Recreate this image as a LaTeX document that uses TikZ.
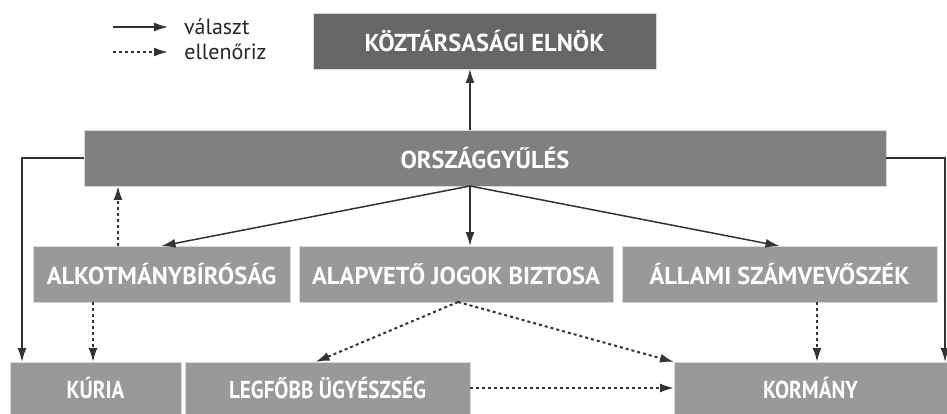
\documentclass[tikz,border=0pt]{standalone}
\usepackage{fontspec}
\setmainfont{PT Sans}
\newfontfamily\narrowsans[FakeStretch=0.86]{PT Sans}
\usetikzlibrary{arrows.meta}
\begin{document}
\begin{tikzpicture}[x=1pt,y=-1pt,
    box/.style={fill=#1,draw=white!85!black,line width=0.6pt,text=white,font=\bfseries\fontsize{24.5}{24.5}\selectfont,
      inner sep=0pt,outer sep=0pt,minimum height=56pt},
    lowbox/.style={box=#1,minimum height=52pt,font=\narrowsans\bfseries\fontsize{24.5}{24.5}\selectfont},
    elect/.style={line width=1.5pt,draw=black!80,-{Latex[length=14pt,width=9pt]}},
    check/.style={elect,dash pattern=on 3pt off 3pt,line width=2pt}]
    \useasboundingbox (0,0) rectangle (947,414);
    % legend
    \coordinate (l1) at (113,27);
    \coordinate (l2) at (113,52);
    \draw[elect] (l1) -- ++(55,0) node[right=12pt,text=black!85,font=\fontsize{22}{22}\selectfont] (lt1) {választ};
    \draw[check] (l2) -- ++(55,0) node[right=12pt,text=black!85,font=\fontsize{22}{22}\selectfont] (lt2) {ellenőriz};
    % boxes
    \node[box=black!60,minimum width=343pt] (elnok) at (484.5,41) {KÖZTÁRSASÁGI ELNÖK};
    \node[box=black!50,minimum width=802pt] (orsz) at (485,158) {ORSZÁGGYŰLÉS};
    \node[box=black!40,minimum width=257pt] (alkot) at (161.5,274) {ALKOTMÁNYBÍRÓSÁG};
    \node[box=black!40,minimum width=314pt] (alapv) at (456,274) {ALAPVETŐ JOGOK BIZTOSA};
    \node[box=black!40,minimum width=315pt] (allami) at (779.5,274) {ÁLLAMI SZÁMVEVŐSZÉK};
    \node[lowbox=black!40,minimum width=171pt] (kuria) at (95.5,388) {KÚRIA};
    \node[lowbox=black!40,minimum width=285pt] (legf) at (327.5,388) {LEGFŐBB ÜGYÉSZSÉG};
    \node[lowbox=black!40,minimum width=273pt] (korm) at (810.5,388) {KORMÁNY};
    % connectors
    \coordinate (hub) at (470,186);
    \draw[elect] (hub |- orsz.north) -- (hub |- elnok.south);
    \draw[elect] (hub) -- (alkot.north);
    \draw[elect] (hub) -- (hub |- alapv.north);
    \draw[elect] (hub) -- (allami.north);
    \draw[elect] (orsz.west) -| ([xshift=12pt]kuria.north west);
    \draw[elect] (orsz.east) -| ([xshift=-2pt]korm.north east);
    \draw[check] ([xshift=-43.5pt]alkot.north) -- ([xshift=-43.5pt]alkot.north |- orsz.south);
    \draw[check] ([xshift=-2.5pt]kuria.north |- alkot.south) -- ([xshift=-2.5pt]kuria.north);
    \draw[check] ([xshift=2pt]alapv.south) -- ([xshift=-12pt]legf.north);
    \draw[check] ([xshift=2pt]alapv.south) -- (korm.north west);
    \draw[check] ([xshift=6.5pt]korm.north |- allami.south) -- ([xshift=6.5pt]korm.north);
    \draw[check] (legf.east) -- (korm.west);
\end{tikzpicture}
\end{document}
